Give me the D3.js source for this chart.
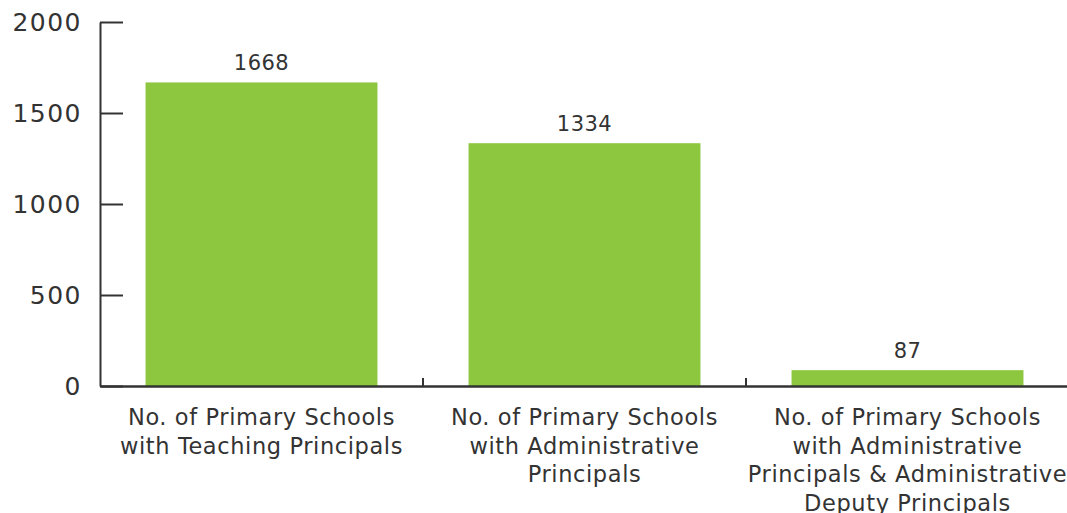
<!DOCTYPE html>
<html lang="en">
  <head>
    <meta charset="UTF-8" />
    <title>Primary Schools by Principal Type</title>
    <script src="https://cdn.jsdelivr.net/npm/d3@7"></script>
    <style>
      body { margin: 0; background: #fff; }
      svg text { font-family: "DejaVu Sans", sans-serif; fill: #333; }
    </style>
  </head>
  <body>
    <div id="main-div"></div>
    <script>
      // data
      let categories = ["teaching", "administrative", "adminDeputy"];
      let values = [1668, 1334, 87];
      let tickLabels = [
        ["No. of Primary Schools", "with Teaching Principals"],
        ["No. of Primary Schools", "with Administrative", "Principals"],
        ["No. of Primary Schools", "with Administrative", "Principals & Administrative", "Deputy Principals"],
      ];
      let yTicks = [0, 500, 1000, 1500, 2000];

      let width = 1067;
      let height = 513;
      let marginLeft = 100;
      let plotRight = 1069;
      let plotTop = 22;
      let plotBottom = 386;

      let svg = d3
        .select("#main-div")
        .append("svg")
        .attr("width", width)
        .attr("height", height);

      let x = d3
        .scaleBand()
        .domain(categories)
        .range([marginLeft, plotRight])
        .paddingInner(0.282)
        .paddingOuter(0.141);

      let y = d3.scaleLinear().domain([0, 2000]).range([plotBottom, plotTop]);

      // bars
      svg
        .selectAll("rect.bar")
        .data(values)
        .enter()
        .append("rect")
        .attr("class", "bar")
        .attr("x", (d, i) => x(categories[i]))
        .attr("y", (d) => y(d))
        .attr("width", x.bandwidth())
        .attr("height", (d) => y(0) - y(d))
        .attr("fill", "#8dc63f");

      // value labels
      svg
        .selectAll("text.value")
        .data(values)
        .enter()
        .append("text")
        .attr("class", "value")
        .attr("x", (d, i) => x(categories[i]) + x.bandwidth() / 2)
        .attr("y", (d) => y(d) - 12)
        .attr("text-anchor", "middle")
        .style("font-size", "21px")
        .style("letter-spacing", "0.5px")
        .text((d) => d);

      // y axis
      let yAxis = svg
        .append("g")
        .attr("transform", "translate(" + marginLeft + ",0)")
        .call(
          d3.axisLeft(y).tickValues(yTicks).tickFormat(d3.format("d"))
            .tickSize(-23).tickPadding(18).tickSizeOuter(0)
        );
      yAxis.select(".domain").attr("stroke", "#333").attr("stroke-width", 2);
      yAxis.selectAll(".tick line").attr("stroke", "#333").attr("stroke-width", 2);
      yAxis.selectAll(".tick text")
        .style("font-size", "25px")
        .style("letter-spacing", "1.5px")
        .attr("fill", "#333");

      // x axis
      let xAxis = svg
        .append("g")
        .attr("transform", "translate(0," + plotBottom + ")")
        .call(d3.axisBottom(x).tickSize(0).tickSizeOuter(0).tickFormat(""));
      xAxis.select(".domain").attr("stroke", "#333").attr("stroke-width", 2.5);

      // boundary ticks between categories
      xAxis
        .selectAll("line.sep")
        .data(categories.slice(1))
        .enter()
        .append("line")
        .attr("class", "sep")
        .attr("x1", (d) => x(d) - (x.step() * x.paddingInner()) / 2)
        .attr("x2", (d) => x(d) - (x.step() * x.paddingInner()) / 2)
        .attr("y1", 0)
        .attr("y2", -8)
        .attr("stroke", "#333")
        .attr("stroke-width", 2);

      // wrapped category labels
      let labels = svg
        .selectAll("text.cat")
        .data(tickLabels)
        .enter()
        .append("text")
        .attr("class", "cat")
        .attr("text-anchor", "middle")
        .style("font-size", "22.5px")
        .style("letter-spacing", "0.6px")
        .attr("transform", (d, i) => "translate(" + (x(categories[i]) + x.bandwidth() / 2) + "," + (plotBottom + 39) + ")");
      labels
        .selectAll("tspan")
        .data((d) => d)
        .enter()
        .append("tspan")
        .attr("x", 0)
        .attr("y", (d, i) => i * 28.5)
        .text((d) => d);
    </script>
  </body>
</html>
